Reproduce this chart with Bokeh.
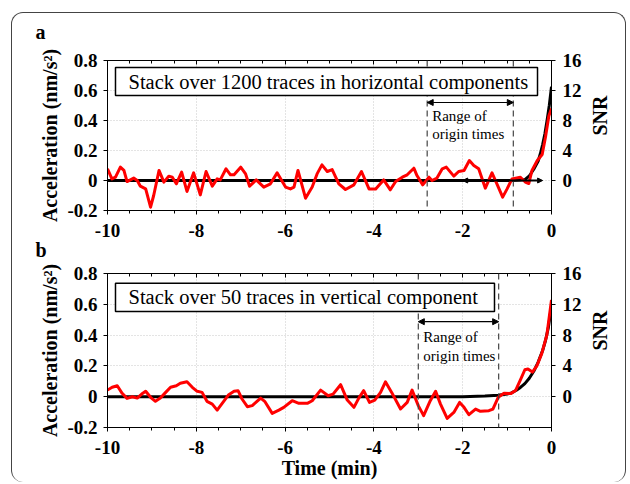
import math
from bokeh.plotting import figure
from bokeh.models import (Range1d, LinearAxis, FixedTicker, CustomJSTickFormatter, Span,
                          Arrow, NormalHead, Label, BoxAnnotation)
from bokeh.layouts import column
from bokeh.embed import file_html
from bokeh.resources import INLINE

FONT = "Liberation Serif"

# ---- panel a : horizontal components (1200 traces) ----
a_red_t = [-10.0, -9.9, -9.82, -9.71, -9.63, -9.56, -9.41, -9.33, -9.26, -9.14,
           -9.03, -8.96, -8.84, -8.73, -8.62, -8.54, -8.45, -8.33, -8.21, -8.06,
           -7.91, -7.78, -7.64, -7.53, -7.46, -7.33, -7.23, -7.15, -7.0, -6.89,
           -6.80, -6.65, -6.48, -6.33, -6.18, -5.99, -5.88, -5.80, -5.71, -5.54,
           -5.39, -5.28, -5.17, -5.05, -4.94, -4.79, -4.64, -4.45, -4.28, -4.11,
           -3.96, -3.78, -3.63, -3.51, -3.36, -3.25, -3.10, -3.03, -2.90, -2.76,
           -2.69, -2.58, -2.46, -2.37, -2.2, -2.09, -1.97, -1.85, -1.75, -1.64,
           -1.49, -1.34, -1.22, -1.10, -1.0, -0.89, -0.70, -0.59, -0.51, -0.44,
           -0.32, -0.21, -0.135, -0.06, 0.0]
a_red_v = [0.078, 0.011, 0.022, 0.089, 0.067, -0.007, 0.016, 0.0, -0.038, -0.056,
           -0.178, -0.1, 0.067, -0.011, 0.029, 0.022, -0.022, 0.056, -0.073, 0.051,
           -0.096, 0.06, -0.038, 0.011, 0.004, 0.078, 0.038, 0.038, 0.089, 0.044,
           -0.038, 0.004, -0.044, -0.022, 0.051, -0.044, -0.056, -0.044, 0.067, -0.118,
           -0.044, 0.044, 0.104, 0.06, 0.073, -0.022, -0.06, -0.029, 0.06, -0.056,
           -0.056, 0.004, -0.062, -0.007, 0.022, 0.038, 0.082, 0.033, -0.029, 0.022,
           0.0, 0.016, 0.078, 0.089, 0.029, 0.06, 0.067, 0.133, 0.1, 0.078,
           -0.051, 0.051, -0.029, -0.111, -0.056, 0.011, 0.022, -0.01, -0.02, 0.067,
           0.133, 0.173, 0.29, 0.43, 0.48]
a_snr_t = [-10.0, -1.0, -0.8, -0.7, -0.6, -0.5, -0.4, -0.3, -0.25, -0.2, -0.15, -0.1, -0.05, 0.0]
a_snr_v = [0.0, 0.0, 0.02, 0.05, 0.12, 0.6, 1.5, 2.6, 3.6, 4.8, 6.2, 8.0, 10.0, 12.5]
a_origin = [-2.8, -0.86]

# ---- panel b : vertical component (50 traces) ----
b_red_t = [-10.0, -9.895, -9.78, -9.67, -9.56, -9.44, -9.33, -9.23, -9.14, -9.03,
           -8.92, -8.81, -8.69, -8.58, -8.45, -8.36, -8.21, -8.09, -7.98, -7.87,
           -7.76, -7.64, -7.53, -7.40, -7.27, -7.15, -7.06, -6.97, -6.85, -6.74,
           -6.55, -6.46, -6.29, -6.14, -6.03, -5.84, -5.69, -5.50, -5.39, -5.20,
           -5.03, -4.92, -4.75, -4.60, -4.45, -4.34, -4.23, -4.10, -3.98, -3.85,
           -3.74, -3.60, -3.40, -3.25, -3.14, -3.0, -2.88, -2.73, -2.61, -2.50,
           -2.35, -2.20, -2.07, -1.97, -1.86, -1.71, -1.60, -1.41, -1.32, -1.20,
           -1.07, -0.92, -0.81, -0.70, -0.60, -0.53, -0.43, -0.33, -0.22, -0.105, 0.0]
b_red_v = [0.043, 0.061, 0.071, 0.022, -0.011, 0.0, -0.009, 0.017, 0.035, -0.004,
           -0.03, -0.009, 0.028, 0.061, 0.071, 0.087, 0.097, 0.061, 0.035, 0.028,
           -0.03, -0.048, -0.087, -0.037, 0.013, 0.035, 0.039, -0.015, -0.065, -0.058,
           -0.009, -0.03, -0.108, -0.087, -0.069, -0.026, -0.043, -0.043, -0.026, 0.043,
           0.006, 0.017, 0.078, -0.022, -0.069, -0.009, 0.039, -0.037, -0.022, 0.028,
           0.097, 0.028, -0.08, -0.037, 0.043, -0.058, -0.123, -0.026, 0.035, -0.048,
           -0.141, -0.102, -0.037, -0.069, -0.117, -0.08, -0.095, -0.091, -0.08, -0.004,
           0.022, 0.02, 0.04, 0.11, 0.175, 0.18, 0.16, 0.20, 0.28, 0.40, 0.628]
b_snr_t = [-10.0, -2.0, -1.5, -1.2, -1.0, -0.9, -0.8, -0.7, -0.6, -0.5, -0.4, -0.3, -0.2, -0.135, -0.07, 0.0]
b_snr_v = [0.0, 0.0, 0.08, 0.2, 0.35, 0.5, 0.8, 1.2, 1.7, 2.4, 3.3, 4.5, 6.0, 7.3, 9.0, 11.8]
b_origin = [-3.0, -1.19]

x_ticks = [-10, -8, -6, -4, -2, 0]
x_minor = [-10 + 0.5 * i for i in range(21)]
acc_ticks = [-0.2, 0, 0.2, 0.4, 0.6, 0.8]
snr_ticks = [0, 4, 8, 12, 16]

titles = ["Stack over 1200 traces in horizontal components",
          "Stack over 50 traces in vertical component"]


def style_labels(ax, size="19px"):
    ax.major_label_text_font = FONT
    ax.major_label_text_font_style = "bold"
    ax.major_label_text_font_size = size
    ax.major_label_text_color = "black"
    ax.axis_label_text_font = FONT
    ax.axis_label_text_font_style = "bold"
    ax.axis_label_text_font_size = "20px"
    ax.axis_label_text_color = "black"
    ax.axis_line_color = "black"
    ax.major_tick_line_color = "black"
    ax.minor_tick_line_color = "black"


def make_panel(red_t, red_v, snr_t, snr_v, origin, arrow_y, txt_y1, txt_y2,
               box, title, tag, tag_standoff, height, mb_top, mb_bottom, xlabel, top_margin):
    p = figure(width=613, height=height, output_backend="svg", toolbar_location=None,
               x_range=Range1d(-10, 0), y_range=Range1d(-0.2, 0.8),
               min_border_left=95, min_border_right=74,
               min_border_top=mb_top, min_border_bottom=mb_bottom,
               x_axis_location=None, y_axis_location=None,
               margin=(top_margin, 0, 0, 0))
    p.extra_y_ranges = {"snr": Range1d(-4, 16)}
    p.border_fill_color = None
    p.background_fill_color = "white"
    p.outline_line_color = "black"
    p.outline_line_width = 1

    # panel tag as the figure title
    p.title.text = tag
    p.title.align = "left"
    p.title.offset = -72
    p.title.standoff = tag_standoff
    p.title.text_font = FONT
    p.title.text_font_style = "bold"
    p.title.text_font_size = "20px"
    p.title.text_color = "black"

    xt = FixedTicker(ticks=x_ticks, minor_ticks=x_minor)
    xb = LinearAxis(ticker=xt, formatter=CustomJSTickFormatter(code="return tick.toFixed(0);"),
                    axis_label=xlabel, major_tick_in=0, major_tick_out=4,
                    minor_tick_in=0, minor_tick_out=3, major_label_standoff=9,
                    axis_label_standoff=0)
    style_labels(xb)
    p.add_layout(xb, "below")

    xa = LinearAxis(ticker=xt, major_tick_in=4, major_tick_out=0,
                    minor_tick_in=3, minor_tick_out=0, major_label_text_font_size="0px",
                    major_label_standoff=0)
    xa.axis_line_color = "black"
    p.add_layout(xa, "above")

    yl = LinearAxis(ticker=FixedTicker(ticks=acc_ticks, minor_ticks=[]),
                    formatter=CustomJSTickFormatter(code="return tick == 0 ? '0' : tick.toFixed(1);"),
                    axis_label="Acceleration (nm/s\u00b2)", major_tick_in=0, major_tick_out=4,
                    major_label_standoff=6, axis_label_standoff=3)
    style_labels(yl)
    p.add_layout(yl, "left")

    yr = LinearAxis(y_range_name="snr", ticker=FixedTicker(ticks=snr_ticks, minor_ticks=[]),
                    formatter=CustomJSTickFormatter(code="return tick.toFixed(0);"),
                    axis_label="SNR", major_tick_in=0, major_tick_out=4,
                    major_label_standoff=7, axis_label_standoff=15,
                    axis_label_orientation=math.pi / 2)
    style_labels(yr)
    p.add_layout(yr, "right")

    p.xgrid.ticker = xt
    p.ygrid.ticker = FixedTicker(ticks=acc_ticks)
    for g in (p.xgrid, p.ygrid):
        g.grid_line_color = "#c8c8c8"
        g.grid_line_dash = "1 2"
        g.grid_line_width = 1

    # curves
    p.line(snr_t, snr_v, y_range_name="snr", line_color="black", line_width=3,
           line_join="round")
    p.line(red_t, red_v, line_color="red", line_width=3, line_join="round")

    # origin-time range
    for loc in origin:
        p.add_layout(Span(location=loc, dimension="height", line_color="#444444",
                          line_dash="6 4", line_width=1.2))
    p.add_layout(Arrow(x_start=origin[0], y_start=arrow_y, x_end=origin[1], y_end=arrow_y,
                       line_color="black", line_width=1.2,
                       start=NormalHead(size=6, fill_color="black", line_color="black"),
                       end=NormalHead(size=6, fill_color="black", line_color="black")))
    p.add_layout(Label(x=origin[0], y=txt_y1, text="Range of", x_offset=5,
                       text_font=FONT, text_font_size="15px", text_baseline="middle",
                       text_align="left", text_color="black"))
    p.add_layout(Label(x=origin[0], y=txt_y2, text="origin times", x_offset=5,
                       text_font=FONT, text_font_size="15px", text_baseline="middle",
                       text_align="left", text_color="black"))

    # title box
    p.add_layout(BoxAnnotation(left=box[0], right=box[1], bottom=box[2], top=box[3],
                               fill_color="white", fill_alpha=1.0,
                               line_color="black", line_width=1.5, line_alpha=1.0))
    p.add_layout(Label(x=box[0], y=(box[2] + box[3]) / 2, text=title, x_offset=13,
                       text_font=FONT, text_font_size="20.5px", text_baseline="middle",
                       text_align="left", text_color="black"))
    return p


pa = make_panel(a_red_t, a_red_v, a_snr_t, a_snr_v, a_origin, 0.52, 0.433, 0.311,
                (-9.82, -0.315, 0.567, 0.753), titles[0], "a", 36, 240, 60, 30, "", -13)
pa.add_layout(Arrow(x_start=-2.0, y_start=0, x_end=-0.2, y_end=0, line_color="black",
                    line_width=2,
                    start=NormalHead(size=5, fill_color="black", line_color="black"),
                    end=NormalHead(size=5, fill_color="black", line_color="black")))
pb = make_panel(b_red_t, b_red_v, b_snr_t, b_snr_v, b_origin, 0.487, 0.385, 0.266,
                (-9.82, -1.284, 0.554, 0.736), titles[1], "b", 25, 265, 56, 55,
                "Time (min)", -23)

layout = column(pa, pb, margin=(12, 0, 0, 11),
                styles={"border": "1px solid #444444", "border-bottom": "none",
                        "border-radius": "12px"})

open("out.html", "w").write(file_html(layout, INLINE))
